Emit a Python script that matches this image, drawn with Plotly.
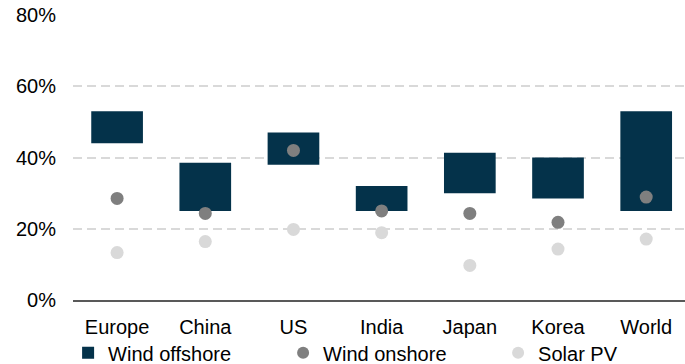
import plotly.graph_objects as go

categories = ["Europe", "China", "US", "India", "Japan", "Korea", "World"]
offshore_low = [0.44, 0.25, 0.38, 0.25, 0.30, 0.285, 0.25]
offshore_high = [0.53, 0.385, 0.47, 0.32, 0.413, 0.40, 0.53]
onshore = [0.285, 0.243, 0.42, 0.25, 0.243, 0.218, 0.289]
solar = [0.133, 0.164, 0.198, 0.189, 0.097, 0.143, 0.171]
y_ticks = [0, 0.2, 0.4, 0.6, 0.8]
y_tick_labels = ["0%", "20%", "40%", "60%", "80%"]

FONT = "Liberation Sans, Arial, sans-serif"

fig = go.Figure()
fig.add_trace(go.Bar(
    x=categories,
    y=[h - l for h, l in zip(offshore_high, offshore_low)],
    base=offshore_low,
    name="Wind offshore",
    width=0.586,
    marker=dict(color="#04324A", line=dict(width=0)),
))
fig.add_trace(go.Scatter(
    x=categories, y=onshore, mode="markers", name="Wind onshore",
    marker=dict(color="#7F7F7F", size=13),
))
fig.add_trace(go.Scatter(
    x=categories, y=solar, mode="markers", name="Solar PV",
    marker=dict(color="#D9D9D9", size=13),
))

fig.update_layout(
    width=685, height=364,
    margin=dict(l=73, r=0, t=15, b=64, autoexpand=False),
    plot_bgcolor="white", paper_bgcolor="white",
    font=dict(family=FONT, size=20, color="#000000"),
    showlegend=True,
    legend=dict(
        orientation="h", x=-0.008, xanchor="left", y=-0.185, yanchor="middle",
        entrywidth=170, entrywidthmode="pixels",
        font=dict(size=20), itemsizing="constant",
        bgcolor="rgba(0,0,0,0)",
    ),
    bargap=0.4,
)
fig.update_xaxes(
    range=[-0.5, 6.44], showgrid=False, showline=True,
    linecolor="#595959", linewidth=2, ticks="", ticklabelstandoff=8,
    tickfont=dict(size=20),
)
fig.update_yaxes(
    range=[0, 0.8], tickvals=y_ticks, ticktext=y_tick_labels,
    showgrid=True, gridcolor="#D9D9D9", gridwidth=2, griddash="9px,5px",
    zeroline=False, showline=False, ticks="", ticklabelstandoff=16,
    tickfont=dict(size=20),
)

fig.write_html("out.html")
